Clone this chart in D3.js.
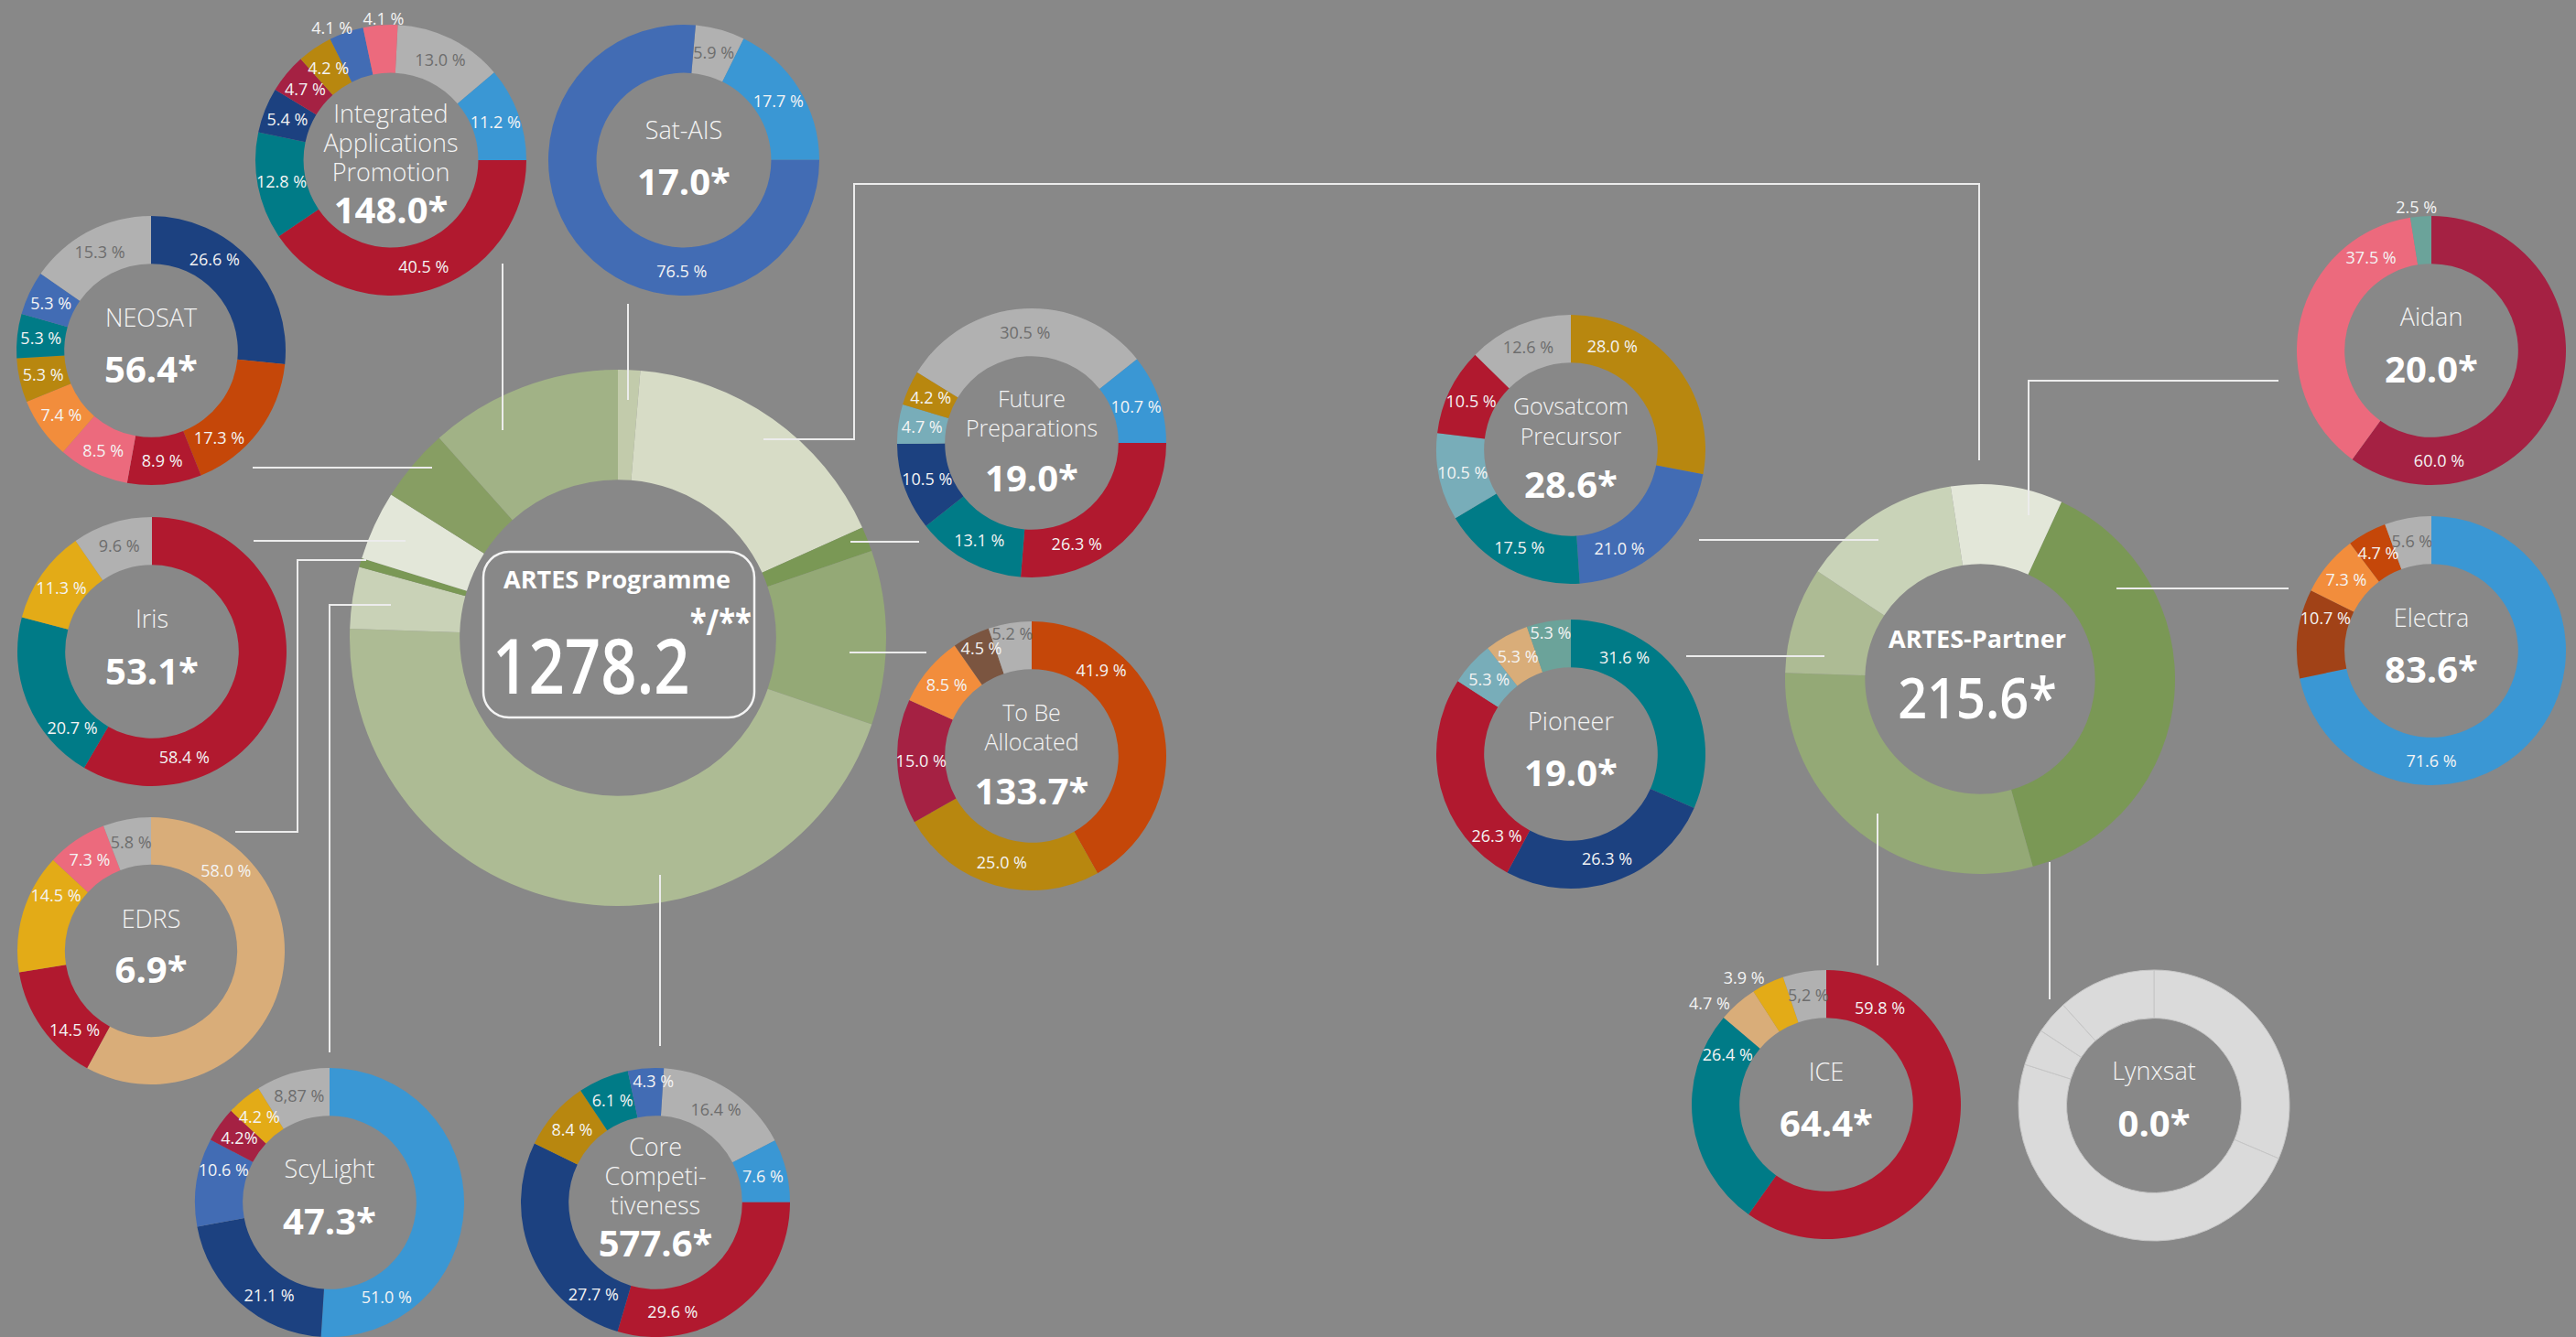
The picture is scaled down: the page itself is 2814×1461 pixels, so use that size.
<!DOCTYPE html>
<html>

<head>
    <meta charset="utf-8">
    <style>
        body {
            margin: 0;
            background: #888888;
        }

        svg {
            display: block;
            font-family: 'Open Sans', 'Noto Sans', sans-serif;
        }

        .pct {
            font-size: 18px;
            text-anchor: middle;
        }

        .name {
            font-weight: 300;
            fill: #f4f4f4;
            text-anchor: middle;
        }

        .total {
            font-size: 40px;
            font-weight: 700;
            fill: #ffffff;
            text-anchor: middle;
        }

        .link {
            fill: none;
            stroke: #ececec;
            stroke-width: 2;
        }

        .hub-title {
            font-size: 27px;
            font-weight: 700;
            fill: #ffffff;
            text-anchor: middle;
        }
    </style>
</head>

<body>
    <svg width="2814" height="1461"></svg>
</body>

<script src="https://cdnjs.cloudflare.com/ajax/libs/d3/7.8.5/d3.min.js"></script>

<script>
    // ---- data ----

    // ARTES Programme budget lines, clockwise from 12 o'clock
    let artesNames = ["Sat-AIS", "ARTES-Partner", "Future Preparations", "To Be Allocated",
        "Core Competitiveness", "ScyLight", "EDRS", "Iris", "NEOSAT", "Integrated Applications Promotion"]
    let artesBudget = [17.0, 215.6, 19.0, 133.7, 577.6, 47.3, 6.9, 53.1, 56.4, 148.0]
    let artesTotal = 1278.2

    // ARTES-Partner budget lines, clockwise from Electra
    let partnerNames = ["Electra", "Lynxsat", "ICE", "Pioneer", "Govsatcom Precursor", "Aidan"]
    let partnerBudget = [83.6, 0.0, 64.4, 19.0, 28.6, 20.0]
    let partnerTotal = 215.6

    // shares (%) per sub-programme, clockwise, with their category keys
    let iapShare = [13.0, 11.2, 40.5, 12.8, 5.4, 4.7, 4.2, 4.1, 4.1]
    let iapCats = ["grey", "lightblue", "red", "teal", "navy", "crimson", "ochre", "blue", "pink"]

    let satShare = [5.9, 17.7, 76.5]
    let satCats = ["grey", "lightblue", "blue"]

    let neoShare = [26.6, 17.3, 8.9, 8.5, 7.4, 5.3, 5.3, 5.3, 15.3]
    let neoCats = ["navy", "orangered", "red", "pink", "orange", "ochre", "teal", "blue", "grey"]

    let irisShare = [58.4, 20.7, 11.3, 9.6]
    let irisCats = ["red", "teal", "yellow", "grey"]

    let edrsShare = [58.0, 14.5, 14.5, 7.3, 5.8]
    let edrsCats = ["tan", "red", "yellow", "pink", "grey"]

    let scyShare = [51.0, 21.1, 10.6, 4.2, 4.2, 8.87]
    let scyCats = ["lightblue", "navy", "blue", "crimson", "yellow", "grey"]
    let scyLabels = ["51.0 %", "21.1 %", "10.6 %", "4.2%", "4.2 %", "8,87 %"]

    let coreShare = [16.4, 7.6, 29.6, 27.7, 8.4, 6.1, 4.3]
    let coreCats = ["grey", "lightblue", "red", "navy", "ochre", "teal", "blue"]

    let futShare = [26.3, 13.1, 10.5, 4.7, 4.2, 30.5, 10.7]
    let futCats = ["red", "teal", "navy", "paleteal", "ochre", "grey", "lightblue"]

    let tbaShare = [41.9, 25.0, 15.0, 8.5, 4.5, 5.2]
    let tbaCats = ["orangered", "ochre", "crimson", "orange", "brown", "grey"]

    let govShare = [28.0, 21.0, 17.5, 10.5, 10.5, 12.6]
    let govCats = ["ochre", "blue", "teal", "paleteal", "red", "grey"]

    let pioShare = [31.6, 26.3, 26.3, 5.3, 5.3, 5.3]
    let pioCats = ["teal", "navy", "red", "paleteal", "tan", "sea"]

    let aidanShare = [60.0, 37.5, 2.5]
    let aidanCats = ["crimson", "pink", "sea"]

    let elecShare = [71.6, 10.7, 7.3, 4.7, 5.6]
    let elecCats = ["lightblue", "rust", "orange", "orangered", "grey"]

    let iceShare = [59.8, 26.4, 4.7, 3.9, 5.2]
    let iceCats = ["red", "teal", "tan", "yellow", "grey"]
    let iceLabels = ["59.8 %", "26.4 %", "4.7 %", "3.9 %", "5,2 %"]

    // Lynxsat has no budget yet: empty ring, faint divisions only
    let lynxShare = [31.4, 48.5, 4.4, 4.0, 11.7]
    let lynxCats = ["empty", "empty", "empty", "empty", "empty"]

    // ---- styles ----

    let colour = d3.scaleOrdinal()
        .domain(["grey", "lightblue", "red", "teal", "navy", "crimson", "ochre", "blue", "pink",
            "orangered", "orange", "yellow", "tan", "paleteal", "brown", "sea", "rust", "empty"])
        .range(["#b1b1b1", "#3a97d4", "#b1192f", "#007b87", "#1c4180", "#a52143", "#b8870f", "#426cb4", "#ec6a7d",
            "#c54709", "#f28d3c", "#e3ab17", "#d9ad79", "#78adb9", "#7b5540", "#6ba39a", "#a14217", "#dadada"])

    let artesShade = d3.scaleOrdinal()
        .domain(artesNames)
        .range(["#c2cbab", "#d7dcc6", "#7a9855", "#94a976", "#adbb94", "#c9d2b7", "#7a9855", "#e3e7d9", "#879e63", "#a1b286"])

    let partnerShade = d3.scaleOrdinal()
        .domain(partnerNames)
        .range(["#7a9855", "#7a9855", "#94a976", "#adbb94", "#c9d3b8", "#e3e7d9"])

    // ---- layout ----

    let layout = {
        "Integrated Applications Promotion": { cx: 427, cy: 175, r: 148, start: 2.9, nameY: -41, lineH: 32, valY: 69, lab: { 7: [336, 158], 8: [357, 155] } },
        "Sat-AIS": { cx: 747, cy: 175, r: 148, start: 5, nameY: -23, valY: 38, lab: { 2: [181] } },
        "NEOSAT": { cx: 165, cy: 383, r: 147, start: 0, nameY: -26, valY: 35, lab: { 0: [35], 1: [142] } },
        "Iris": { cx: 166, cy: 712, r: 147, start: 0, nameY: -26, valY: 36, lab: { 0: [163], 1: [226] } },
        "EDRS": { cx: 165, cy: 1039, r: 146, start: 0, nameY: -25, valY: 35, lab: { 0: [43], 1: [224], 2: [300] } },
        "ScyLight": { cx: 360, cy: 1314, r: 147, start: 0, nameY: -27, valY: 35, lab: { 0: [149], 1: [213], 2: [287] } },
        "Core Competitiveness": { cx: 716, cy: 1314, r: 147, start: 3.6, nameY: -51, lineH: 32, valY: 59, lab: { 2: [171], 3: [214], 6: [359, 133] } },
        "Future Preparations": { cx: 1127, cy: 484, r: 147, start: 90, nameY: -39, lineH: 32, valY: 53, fs: 25, lab: { 0: [156] } },
        "To Be Allocated": { cx: 1127, cy: 826, r: 147, start: 0, nameY: -38, lineH: 32, valY: 53, fs: 25, lab: { 0: [39], 4: [335, 130], 5: [351, 135] } },
        "Govsatcom Precursor": { cx: 1716, cy: 491, r: 147, start: 0, nameY: -38, lineH: 33, valY: 53, fs: 25, lab: { 0: [22], 1: [154] } },
        "Pioneer": { cx: 1716, cy: 824, r: 147, start: 0, nameY: -26, valY: 35, lab: { 0: [29], 2: [222], 5: [350.5, 134] } },
        "Aidan": { cx: 2656, cy: 383, r: 147, start: 0, nameY: -27, valY: 35, lab: { 0: [176], 1: [327], 2: [354, 157] } },
        "Electra": { cx: 2656, cy: 711, r: 147, start: 0, nameY: -26, valY: 35, lab: { 0: [180], 1: [287] } },
        "ICE": { cx: 1995, cy: 1207, r: 147, start: 0, nameY: -26, valY: 35, lab: { 0: [29], 1: [297], 2: [311, 169], 3: [327, 165] } },
        "Lynxsat": { cx: 2353, cy: 1208, r: 148, start: 0, nameY: -28, valY: 34 }
    }

    // connector lines between the hubs and the sub-programme rings
    let links = [
        [[549, 288], [549, 470]],
        [[686, 332], [686, 437]],
        [[276, 511], [472, 511]],
        [[277, 591], [443, 591]],
        [[400, 612], [325, 612], [325, 909], [257, 909]],
        [[427, 661], [360, 661], [360, 1150]],
        [[721, 956], [721, 1143]],
        [[928, 713], [1012, 713]],
        [[929, 592], [1004, 592]],
        [[834, 480], [933, 480], [933, 201], [2162, 201], [2162, 503]],
        [[2052, 590], [1856, 590]],
        [[1993, 717], [1842, 717]],
        [[2216, 563], [2216, 416], [2489, 416]],
        [[2312, 643], [2500, 643]],
        [[2051, 889], [2051, 1055]],
        [[2239, 942], [2239, 1092]]
    ]

    let subs = [
        { title: "Integrated Applications Promotion", lines: ["Integrated", "Applications", "Promotion"], share: iapShare, cats: iapCats },
        { title: "Sat-AIS", lines: ["Sat-AIS"], share: satShare, cats: satCats },
        { title: "NEOSAT", lines: ["NEOSAT"], share: neoShare, cats: neoCats },
        { title: "Iris", lines: ["Iris"], share: irisShare, cats: irisCats },
        { title: "EDRS", lines: ["EDRS"], share: edrsShare, cats: edrsCats },
        { title: "ScyLight", lines: ["ScyLight"], share: scyShare, cats: scyCats, labels: scyLabels },
        { title: "Core Competitiveness", lines: ["Core", "Competi-", "tiveness"], share: coreShare, cats: coreCats },
        { title: "Future Preparations", lines: ["Future", "Preparations"], share: futShare, cats: futCats },
        { title: "To Be Allocated", lines: ["To Be", "Allocated"], share: tbaShare, cats: tbaCats },
        { title: "Govsatcom Precursor", lines: ["Govsatcom", "Precursor"], share: govShare, cats: govCats },
        { title: "Pioneer", lines: ["Pioneer"], share: pioShare, cats: pioCats },
        { title: "Aidan", lines: ["Aidan"], share: aidanShare, cats: aidanCats },
        { title: "Electra", lines: ["Electra"], share: elecShare, cats: elecCats },
        { title: "ICE", lines: ["ICE"], share: iceShare, cats: iceCats, labels: iceLabels },
        { title: "Lynxsat", lines: ["Lynxsat"], share: lynxShare, cats: lynxCats, noLabels: true }
    ]

    // ---- drawing ----

    let svg = d3.select("svg")
    let fmt1 = d3.format(".1f")
    let rad = deg => deg * Math.PI / 180

    function budgetOf(title) {
        let i = artesNames.indexOf(title)
        if (i >= 0) return artesBudget[i]
        return partnerBudget[partnerNames.indexOf(title)]
    }

    // hub ring
    function hub(names, values, shade, cx, cy, r, startDeg) {
        let a0 = rad(startDeg)
        let pie = d3.pie().sort(null).value(d => d.v).startAngle(a0).endAngle(a0 + 2 * Math.PI)
        let arc = d3.arc().innerRadius(r * 0.59).outerRadius(r)
        let rows = names.map((n, i) => ({ n: n, v: values[i] }))
        svg.append("g")
            .attr("transform", `translate(${cx},${cy})`)
            .selectAll("path")
            .data(pie(rows))
            .join("path")
            .attr("fill", d => shade(d.data.n))
            .attr("d", arc)
    }

    hub(artesNames, artesBudget, artesShade, 675, 697, 293, 0)
    hub(partnerNames, partnerBudget, partnerShade, 2163, 742, 213, 24.7)

    // connectors
    svg.append("g")
        .selectAll("path")
        .data(links)
        .join("path")
        .attr("class", "link")
        .attr("d", d3.line())

    // ARTES Programme centre
    svg.append("rect")
        .attr("x", 528).attr("y", 603)
        .attr("width", 296).attr("height", 181)
        .attr("rx", 28)
        .attr("fill", "none")
        .attr("stroke", "#f4f4f4")
        .attr("stroke-width", 2.5)

    svg.append("text")
        .attr("class", "hub-title")
        .attr("x", 674).attr("y", 643)
        .text("ARTES Programme")

    // total with its footnote marks as one superscripted text
    let big = svg.append("text")
        .attr("transform", "translate(538,758) scale(0.82,1)")
        .style("font-weight", 600)
        .style("fill", "#fff")
    big.append("tspan")
        .style("font-size", "84px")
        .text(fmt1(artesTotal))
    big.append("tspan")
        .attr("dy", -64)
        .style("font-size", "40px")
        .style("font-weight", 700)
        .text("*/**")

    // ARTES-Partner centre
    svg.append("text")
        .attr("class", "hub-title")
        .attr("x", 2160).attr("y", 708)
        .text("ARTES-Partner")

    svg.append("text")
        .attr("transform", "translate(2160,785) scale(0.9,1)")
        .style("font-size", "62px")
        .style("font-weight", 600)
        .style("fill", "#fff")
        .style("text-anchor", "middle")
        .text(fmt1(partnerTotal) + "*")

    // sub-programme rings
    subs.forEach(function (d) {
        let L = layout[d.title]
        let g = svg.append("g").attr("transform", `translate(${L.cx},${L.cy})`)
        let a0 = rad(L.start)
        let pie = d3.pie().sort(null).startAngle(a0).endAngle(a0 + 2 * Math.PI)
        let rIn = L.r * 0.645
        let arc = d3.arc().innerRadius(rIn).outerRadius(L.r)
        let arcs = pie(d.share)

        g.selectAll("path")
            .data(arcs)
            .join("path")
            .attr("fill", (a, i) => colour(d.cats[i]))
            .attr("stroke", d.noLabels ? "#c6c6c6" : "none")
            .attr("stroke-width", 1)
            .attr("d", arc)

        if (!d.noLabels) {
            let lab = L.lab || {}
            g.selectAll("text.pct")
                .data(arcs)
                .join("text")
                .attr("class", "pct")
                .attr("transform", function (a, i) {
                    let p = arc.centroid(a)
                    if (lab[i]) {
                        let rr = lab[i][1] || (rIn + L.r) / 2
                        p = [rr * Math.sin(rad(lab[i][0])), -rr * Math.cos(rad(lab[i][0]))]
                    }
                    return `translate(${p[0]},${p[1]})`
                })
                .attr("dy", "0.36em")
                .style("fill", function (a, i) {
                    let outside = lab[i] && lab[i][1] && lab[i][1] > L.r
                    return (d.cats[i] == "grey" && !outside) ? "#6d6d6d" : "#f4f4f4"
                })
                .text((a, i) => d.labels ? d.labels[i] : fmt1(d.share[i]) + " %")
        }

        g.selectAll("text.name")
            .data(d.lines)
            .join("text")
            .attr("class", "name")
            .attr("y", (t, i) => L.nameY + i * (L.lineH || 32))
            .style("font-size", (L.fs || 27) + "px")
            .text(t => t)

        g.append("text")
            .attr("class", "total")
            .attr("y", L.valY)
            .text(fmt1(budgetOf(d.title)) + "*")
    })

</script>

</html>
